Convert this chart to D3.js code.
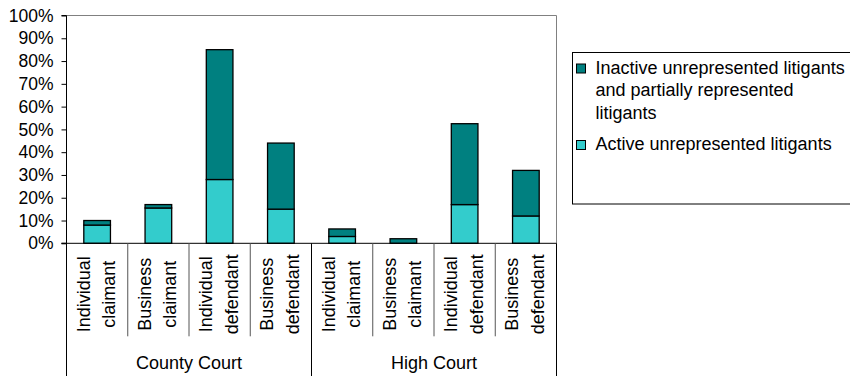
<!DOCTYPE html>
<html>
<head>
<meta charset="utf-8">
<script src="https://cdn.jsdelivr.net/npm/d3@7"></script>
<style>
  body { margin: 0; background: #fff; }
  svg { display: block; font-family: "Liberation Sans", Arial, sans-serif; }
</style>
</head>
<body>
<div id="chart"></div>
<script>
// Chart data
const courts = ['County Court', 'High Court'];
const parties = [['Individual', 'claimant'], ['Business', 'claimant'], ['Individual', 'defendant'], ['Business', 'defendant']];
const activeValues = [8, 15.5, 28, 15, 3, 0, 17, 12];
const inactiveValues = [2, 1.5, 57, 29, 3.3, 2, 35.5, 20];
const seriesNames = ['Inactive unrepresented litigants and partially represented litigants', 'Active unrepresented litigants'];
const legendLines = [['Inactive unrepresented litigants', 'and partially represented', 'litigants'], ['Active unrepresented litigants']];
const yTicks = [0, 10, 20, 30, 40, 50, 60, 70, 80, 90, 100];

const colors = { inactive: '#008080', active: '#33cccc' };

// Build flat category list
const cats = [];
courts.forEach((court, ci) => {
  parties.forEach((p, pi) => {
    const i = ci * parties.length + pi;
    cats.push({ key: i, court: court, lines: p, active: activeValues[i], inactive: inactiveValues[i] });
  });
});

const svgWidth = 850, svgHeight = 376;
const margin = { top: 15.5, left: 66.5, right: 293.5, bottom: 132.7 };
const chartWidth = svgWidth - margin.left - margin.right;
const chartHeight = svgHeight - margin.top - margin.bottom;

let svg = d3.select('#chart').append('svg')
  .attr('width', svgWidth)
  .attr('height', svgHeight);

let chart = svg.append('g')
  .attr('transform', `translate(${margin.left}, ${margin.top})`);

// Scales
let xScale = d3.scaleBand()
  .domain(cats.map(d => d.key))
  .range([0, chartWidth])
  .paddingInner(0.565)
  .paddingOuter(0.2825);

let yScale = d3.scaleLinear()
  .domain([0, 100])
  .range([chartHeight, 0]);

// Plot area border (top and right)
chart.append('path')
  .attr('d', `M0,0H${chartWidth}V${chartHeight}`)
  .attr('fill', 'none')
  .attr('stroke', '#808080')
  .attr('stroke-width', 1);

// Y axis
let yAxis = d3.axisLeft(yScale)
  .tickValues(yTicks)
  .tickSize(5)
  .tickPadding(8)
  .tickFormat(d => d + '%');

let yG = chart.append('g').call(yAxis);
yG.select('.domain').attr('d', `M-5,${chartHeight}H0V0H-5`).attr('stroke', '#000');
yG.selectAll('text').style('font-size', '17.5px').attr('fill', '#000');

// Stacked bars
const stack = d3.stack().keys(['active', 'inactive']);
const layers = stack(cats);

chart.selectAll('g.layer')
  .data(layers)
  .enter()
  .append('g')
  .attr('class', 'layer')
  .attr('fill', d => colors[d.key])
  .selectAll('rect')
  .data(d => d)
  .enter()
  .append('rect')
  .attr('x', d => xScale(d.data.key))
  .attr('width', xScale.bandwidth())
  .attr('y', d => yScale(d[1]))
  .attr('height', d => yScale(d[0]) - yScale(d[1]))
  .attr('stroke', '#000')
  .attr('stroke-width', 1.3);

// Bottom axis line
chart.append('line')
  .attr('x1', -5).attr('x2', chartWidth)
  .attr('y1', chartHeight).attr('y2', chartHeight)
  .attr('stroke', '#000');

// Category separators
const step = xScale.step();
const catAxis = chart.append('g').attr('transform', `translate(0, ${chartHeight})`);
d3.range(cats.length + 1).forEach(i => {
  const isGroup = i % parties.length === 0;
  catAxis.append('line')
    .attr('x1', i * step).attr('x2', i * step)
    .attr('y1', 0).attr('y2', isGroup ? svgHeight : 93)
    .attr('stroke', isGroup ? '#000' : '#555')
    .attr('stroke-width', 1);
});

// Category labels (rotated, two lines)
cats.forEach(d => {
  const cx = xScale(d.key) + xScale.bandwidth() / 2;
  const t = catAxis.append('text')
    .attr('transform', `translate(${cx}, 51) rotate(-90)`)
    .attr('text-anchor', 'middle')
    .style('font-size', '18px')
    .attr('fill', '#000');
  t.append('tspan').attr('x', 0).attr('y', -7.5).text(d.lines[0]);
  t.append('tspan').attr('x', 0).attr('y', 18).text(d.lines[1]);
});

// Court group labels
courts.forEach((court, ci) => {
  catAxis.append('text')
    .attr('x', (ci + 0.5) * parties.length * step)
    .attr('y', 126)
    .attr('text-anchor', 'middle')
    .style('font-size', '18px')
    .attr('fill', '#000')
    .text(court);
});

// Legend
const legend = svg.append('g').attr('transform', 'translate(572.5, 52.5)');
legend.append('rect')
  .attr('width', 300).attr('height', 151.5)
  .attr('fill', '#fff').attr('stroke', '#000').attr('stroke-width', 1);

const legendKeys = ['inactive', 'active'];
const legendY = [21, 97.5];
legendKeys.forEach((k, i) => {
  const row = legend.append('g').attr('transform', `translate(0, ${legendY[i]})`);
  row.append('rect')
    .attr('x', 4).attr('y', -9.5)
    .attr('width', 9).attr('height', 9)
    .attr('fill', colors[k]).attr('stroke', '#000');
  const t = row.append('text')
    .style('font-size', '18px')
    .attr('fill', '#000');
  t.append('title').text(seriesNames[i]);
  legendLines[i].forEach((line, j) => {
    t.append('tspan').attr('x', 23).attr('y', j * 22.5).text(line);
  });
});
</script>
</body>
</html>
